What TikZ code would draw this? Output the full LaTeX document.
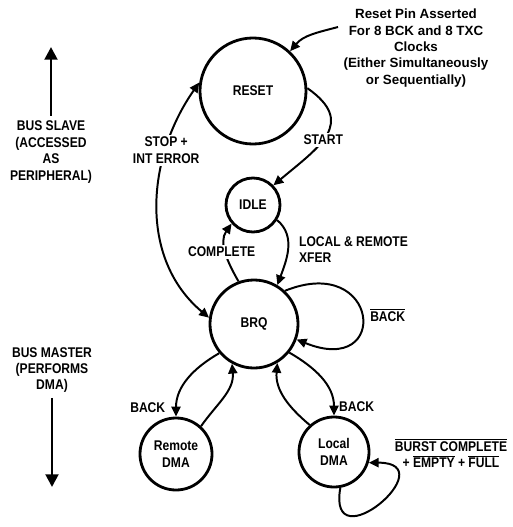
\documentclass[tikz,border=0pt]{standalone}
\usepackage{amsmath}
\usepackage{fontspec}
\setmainfont{Liberation Sans}[FakeStretch=0.86]
\newfontfamily\pinfont{Liberation Sans}
\usetikzlibrary{arrows.meta}
\newcommand{\notsig}[1]{$\overline{\mbox{#1}}$}

\begin{document}
\begin{tikzpicture}[x=0.025cm, y=-0.025cm, >={Triangle[length=7pt,width=6.5pt]},
  every node/.style={font=\bfseries\fontsize{10}{11.7}\selectfont},
  state/.style={draw, circle, line width=2pt, inner sep=0pt, align=center},
  edge/.style={->, line width=1.4pt},
  lbl/.style={fill=white, inner sep=1.5pt, align=center},
  side/.style={->, line width=2pt, >={Triangle[length=9pt,width=9pt]}}]

  \useasboundingbox (0,0) rectangle (513,527);

  \node[state, minimum size=2.65cm] (reset) at (253,91) {RESET};
  \node[state, minimum size=1.35cm] (idle) at (253,205) {IDLE};
  \node[state, minimum size=2.2cm] (brq) at (254,324) {BRQ};
  \node[state, minimum size=1.8cm] (remote) at (176,454) {Remote\\DMA};
  \node[state, minimum size=1.75cm] (local) at (334,452) {Local\\DMA};

  \node[align=center, font=\pinfont\bfseries\fontsize{9.5}{11.7}\selectfont] (pintext) at (416,48)
    {Reset Pin Asserted\\For 8 BCK and 8 TXC\\Clocks\\(Either Simultaneously\\or Sequentially)};
  \coordinate (pin) at (338,27);
  \draw[edge] (pin) to[out=195, in=50] (reset.47);

  \draw[edge, <->] (brq.172) to[out=140, in=235] node[lbl, pos=0.72] (stop) {STOP +\\INT ERROR} (reset.171);
  \draw[edge] (reset.3) to[out=-35, in=40, looseness=1.5] node[lbl, pos=0.55] (start) {START} (idle.44);
  \draw[edge] (brq.110) to[out=120, in=235] node[lbl, pos=0.5, xshift=-3pt] (complete) {COMPLETE} (idle.221);
  \draw[edge] (idle.-32) to[out=-40, in=70] node[right, pos=0.5, align=left, xshift=4pt] (xfer) {LOCAL \& REMOTE\\XFER} (brq.59);
  \draw[edge] (brq.47) to[out=22, in=-22, looseness=5.2] node[right, xshift=2pt] (back) {\notsig{BACK}} (brq.-20);

  \draw[edge] (brq.220) to[out=210, in=90] node[left, pos=0.9, xshift=-4pt] (rback) {BACK} (remote.90);
  \draw[edge] (remote.48) to[out=55, in=-85] (brq.241);
  \draw[edge] (brq.-39) to[out=-30, in=90] node[right, pos=0.9] (lback) {BACK} (local.90);
  \draw[edge] (local.132) to[out=140, in=-95] (brq.-59);
  \draw[edge] (local.-80) to[out=-100, in=0, looseness=5.2] (local.-17);
  \node[align=center] (burst) at (451,453) {\notsig{BURST COMPLETE}\\+ \notsig{EMPTY} + \notsig{FULL}};

  \node[align=center] (slave) at (51,152) {BUS SLAVE\\(ACCESSED\\AS\\PERIPHERAL)};
  \node[align=center] (master) at (52,370) {BUS MASTER\\(PERFORMS\\DMA)};
  \coordinate (top) at (51,47);
  \coordinate (bottom) at (52,487);
  \draw[side] (slave) -- (top);
  \draw[side] (master) -- (bottom);
\end{tikzpicture}
\end{document}
